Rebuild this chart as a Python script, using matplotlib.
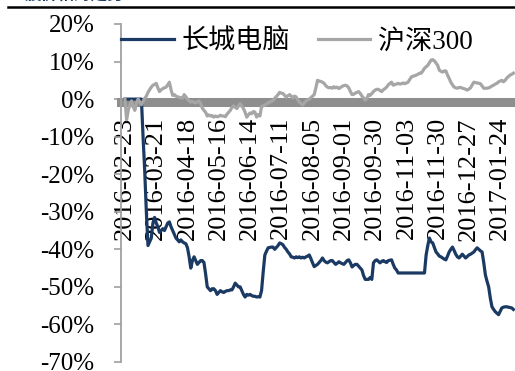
import matplotlib
matplotlib.use('Agg')
import matplotlib.pyplot as plt
from matplotlib.lines import Line2D

plt.rcParams['font.family'] = ['Liberation Serif', 'Noto Sans CJK SC']
plt.rcParams['axes.unicode_minus'] = False

# x axis: trading days since 2016-02-23, a label every 19 days
date_labels = ['2016-02-23', '2016-03-21', '2016-04-18', '2016-05-16', '2016-06-14',
               '2016-07-11', '2016-08-05', '2016-09-01', '2016-09-30', '2016-11-03',
               '2016-11-30', '2016-12-27', '2017-01-24']
label_step = 19

# cumulative return (%), one value per trading day
gcdn = [0, 0, 0, 0, 0, 0, 0, 0, 0, 0,
        0, -10, -19, -30, -39, -38, -37, -33, -31.5, -33,
        -34, -35.5, -35, -34.5, -35, -34, -33, -32.7, -34, -35,
        -36, -37, -37.5, -38, -37.5, -38, -38.3, -38.5, -39.6, -42,
        -45, -43, -42, -43, -44, -43.5, -43, -43, -43.5, -46.5,
        -50, -50.5, -51, -50.5, -50.5, -51, -52, -51.5, -51, -51.3,
        -51.5, -51.2, -51, -51, -50.8, -50.8, -50, -49, -49.5, -50,
        -50, -51, -52, -52.7, -52, -52.2, -52, -52.3, -52.5, -52.5,
        -52.7, -52.6, -52.7, -51, -46, -41.5, -40.5, -39.6, -39.5, -39.4,
        -39.4, -40, -39.5, -39, -38.3, -38.5, -38.8, -39.5, -40, -40.7,
        -41.2, -42, -42.1, -42.3, -42, -42.2, -42, -42.3, -42.1, -42.3,
        -42, -41.8, -41.5, -42.5, -43.6, -44.6, -44.3, -44, -43.5, -43,
        -42.3, -43, -43.4, -43.6, -43.3, -43, -43, -43.5, -44, -43.7,
        -43.3, -43.6, -43.8, -44, -43.5, -43, -42.8, -43.6, -44.7, -44.3,
        -44, -44, -44.5, -45, -45.5, -47, -48, -48, -48, -47.5,
        -48, -43.6, -43, -42.8, -43.2, -43.6, -43.2, -43, -43.3, -43.5,
        -43, -42.9, -42.8, -44, -45, -45.5, -46.3, -46.3, -46.3, -46.3,
        -46.3, -46.3, -46.3, -46.3, -46.3, -46.3, -46.3, -46.3, -46.3, -46.3,
        -46.3, -46.3, -46.3, -41.5, -39, -37, -38, -38.3, -39.5, -40.7,
        -41.2, -41.8, -42, -42.3, -42.6, -42.8, -41.8, -40.7, -40, -39.4,
        -40.3, -41.3, -42, -42.3, -41.8, -41.3, -41.8, -42.3, -41.9, -41.5,
        -41.3, -41, -40.7, -40.1, -39.6, -40, -40.4, -40.7, -43.5, -46.8,
        -48.5, -50, -53, -55.3, -56, -56.6, -57, -57.4, -56.5, -55.6,
        -55.4, -55.3, -55.3, -55.4, -55.5, -55.6, -56]

hs300 = [0, -5.5, -3.0, -1.5, -0.5, -2.0, -3.0, -1.0, 0.0, -0.8,
         -1.5, -0.6, 0.2, 0.8, 1.8, 2.5, 3.2, 3.7, 3.9, 4.2,
         3.0, 2.0, 2.5, 2.8, 3.0, 3.2, 3.8, 4.5, 2.5, 1.0,
         1.2, 0.8, 0.6, 0.5, 0.3, 0.3, 1.2, 0.6, 0.0, -0.5,
         -0.8, -0.6, -0.9, -1.0, -0.7, -0.5, -1.2, -2.4, -3.0, -3.5,
         -4.5, -4.2, -4.5, -4.4, -4.8, -4.5, -4.7, -4.6, -4.3, -4.5,
         -4.5, -4.7, -4.0, -3.5, -3.0, -2.2, -1.8, -2.2, -2.5, -1.8,
         -1.2, -1.8, -2.5, -3.5, -4.8, -4.2, -3.7, -3.9, -3.3, -3.5,
         -4.8, -4.1, -4.5, -2.0, -1.8, -1.6, -1.3, -1.0, -0.8, -0.6,
         -0.3, 0.2, 0.7, 1.2, 1.8, 1.6, 1.5, 1.0, 0.5, 0.9,
         1.2, 0.8, 0.3, 0.8, 0.6, -0.2, -0.8, -1.2, -1.6, -1.0,
         -0.5, -0.2, 0.0, 0.4, 0.8, 1.2, 3.0, 5.0, 4.8, 4.7,
         4.5, 4.2, 3.6, 3.2, 3.0, 3.1, 2.9, 3.3, 3.0, 3.2,
         2.8, 3.1, 3.4, 3.6, 3.7, 3.5, 3.0, 2.0, 1.2, 1.3,
         1.6, 1.8, 2.0, 1.5, 0.8, 0.3, -0.3, 0.2, 1.2, 1.0,
         1.5, 2.0, 2.4, 2.6, 2.6, 2.3, 2.0, 2.5, 2.8, 3.2,
         3.8, 4.2, 4.5, 3.7, 3.9, 4.0, 4.2, 4.0, 4.1, 4.3,
         4.1, 4.3, 4.5, 5.2, 5.9, 6.1, 6.2, 6.4, 6.6, 6.9,
         6.9, 7.5, 8.2, 8.6, 9.0, 9.7, 10.4, 10.5, 10.2, 9.6,
         9.0, 7.7, 7.4, 7.2, 7.5, 7.5, 6.4, 5.5, 4.5, 3.8,
         3.2, 3.0, 2.9, 3.1, 3.1, 2.9, 2.8, 2.6, 2.4, 2.7,
         3.0, 3.8, 4.5, 4.4, 4.3, 4.2, 4.1, 3.5, 2.9, 2.9,
         2.9, 3.0, 3.2, 3.5, 3.7, 4.0, 4.2, 4.6, 4.8, 5.0,
         4.6, 5.0, 5.6, 6.0, 6.4, 6.6, 6.9]

yticks = [-70, -60, -50, -40, -30, -20, -10, 0, 10, 20]
ytick_labels = ['-70%', '-60%', '-50%', '-40%', '-30%', '-20%', '-10%', '0%', '10%', '20%']

days = list(range(len(gcdn)))

fig = plt.figure(figsize=(5.15, 3.71), dpi=100)
ax = fig.add_axes([121 / 515, 9 / 371, 1 - 121 / 515, 338 / 371])

ax.plot(days, gcdn, color='#1b3a63', lw=2.3, label='长城电脑', zorder=3)
ax.plot(days, hs300, color='#a6a6a6', lw=2.3, label='沪深300', zorder=3)

ax.set_xlim(-2.4, 237)
ax.set_ylim(-70, 20)
ax.set_yticks(yticks)
ax.set_yticklabels(ytick_labels)

# thick grey horizontal axis just under 0
ax.spines['bottom'].set_position(('data', -0.9))
ax.spines['bottom'].set_linewidth(6.5)
ax.spines['bottom'].set_color('#8e8e8e')
ax.spines['bottom'].set_zorder(2)
ax.set_xticks(days[::label_step])
ax.set_xticklabels(date_labels, rotation=90, fontsize=19)
ax.tick_params(axis='x', length=0, pad=10.5)

ax.spines['top'].set_visible(False)
ax.spines['right'].set_visible(False)
ax.spines['left'].set_color('#a0a0a0')
ax.spines['left'].set_linewidth(1.3)
ax.tick_params(axis='y', length=5, width=1.2, color='#a0a0a0', pad=14, labelsize=18)

ax.legend(loc='center left', bbox_to_anchor=(0, 0.947), ncol=2, frameon=False,
          fontsize=19.5, handlelength=1.95, handletextpad=0.3, columnspacing=1.0,
          borderpad=0, borderaxespad=0)

# header remnant at the top
fig.text(25 / 515, 1 - 4 / 371, '股价相对走势', color='#1b3a63', fontsize=12,
         fontweight='bold', va='bottom', ha='left')
fig.add_artist(Line2D([8 / 515, 1], [1 - 7 / 371, 1 - 7 / 371], color='black', lw=1.8))

fig.savefig('out.png', dpi=100)
